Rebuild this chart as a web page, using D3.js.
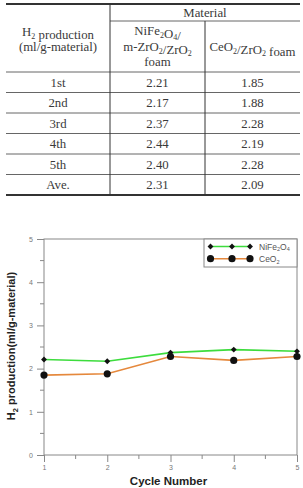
<!DOCTYPE html>
<html><head><meta charset="utf-8">
<script src="https://cdn.jsdelivr.net/npm/d3@7"></script>
<style>body{margin:0;background:#fff}svg{display:block}</style>
</head><body>
<script>
// ---- data ----
const rowLabels = ["1st","2nd","3rd","4th","5th","Ave."];
const nifeTable = ["2.21","2.17","2.37","2.44","2.40","2.31"];
const ceoTable  = ["1.85","1.88","2.28","2.19","2.28","2.09"];
const cycles = [1,2,3,4,5];
const nifeValues = [2.21,2.17,2.37,2.44,2.40];
const ceoValues  = [1.85,1.88,2.28,2.19,2.28];
const yTicks = [0,1,2,3,4,5];
const xTicks = [1,2,3,4,5];

const W=303,H=488;
const svg=d3.select("body").append("svg").attr("width",W).attr("height",H);

// ---- table ----
const serif="'Liberation Serif','DejaVu Serif',serif";
const tc="#3a3a3a";
const tL=6,tR=300,c1=110,c2=205,tTop=4,hMid=21,hBot=72,rowH=20.5;
const T=svg.append("g").attr("font-family",serif).attr("font-size",12.8).attr("fill",tc).attr("text-anchor","middle");
function rich(g,x,y,parts){
  const t=g.append("text").attr("x",x).attr("y",y);
  parts.forEach(p=>{
    if(typeof p==="string") t.append("tspan").text(p);
    else { t.append("tspan").attr("font-size",8).attr("dy",2.5).text(p.sub);
           t.append("tspan").attr("dy",-2.5).text(""); }
  });
  return t;
}
T.append("line").attr("x1",tL).attr("x2",tR).attr("y1",tTop).attr("y2",tTop).attr("stroke","#333").attr("stroke-width",2);
T.append("line").attr("x1",c1).attr("x2",tR).attr("y1",hMid).attr("y2",hMid).attr("stroke","#666").attr("stroke-width",1);
T.append("line").attr("x1",tL).attr("x2",tR).attr("y1",hBot).attr("y2",hBot).attr("stroke","#666").attr("stroke-width",1);
rowLabels.forEach((r,i)=>{
  const yy=hBot+rowH*(i+1);
  const last=i===rowLabels.length-1;
  T.append("line").attr("x1",tL).attr("x2",tR).attr("y1",yy).attr("y2",yy)
    .attr("stroke",last?"#333":"#666").attr("stroke-width",last?2:1);
  const cy=hBot+rowH*i+rowH/2+4.3;
  T.append("text").attr("x",(tL+c1)/2).attr("y",cy).text(r);
  T.append("text").attr("x",(c1+c2)/2).attr("y",cy).text(nifeTable[i]);
  T.append("text").attr("x",(c2+tR)/2).attr("y",cy).text(ceoTable[i]);
});
const tBot=hBot+rowH*rowLabels.length;
T.append("line").attr("x1",c1).attr("x2",c1).attr("y1",tTop).attr("y2",tBot).attr("stroke","#333");
T.append("line").attr("x1",c2).attr("x2",c2).attr("y1",hMid).attr("y2",tBot).attr("stroke","#333");
T.append("text").attr("x",(c1+tR)/2).attr("y",17).text("Material");
rich(T,(tL+c1)/2,36,["H",{sub:"2"}," production"]);
T.append("text").attr("x",(tL+c1)/2).attr("y",51).text("(ml/g-material)");
rich(T,(c1+c2)/2,35,["NiFe",{sub:"2"},"O",{sub:"4"},"/"]);
rich(T,(c1+c2)/2,51,["m-ZrO",{sub:"2"},"/ZrO",{sub:"2"}]);
T.append("text").attr("x",(c1+c2)/2).attr("y",66).text("foam");
rich(T,(c2+tR)/2,51,["CeO",{sub:"2"},"/ZrO",{sub:"2"}," foam"]);

// ---- chart ----
const sans="Arial,'Liberation Sans',sans-serif";
const pL=44,pR=297,pT=239,pB=455;
const x=d3.scaleLinear().domain([1,5]).range([pL,pR]);
const y=d3.scaleLinear().domain([0,5]).range([pB,pT]);
const C=svg.append("g").attr("font-family",sans);
const ax="#888";
const yMinor=d3.range(0.5,5,1);
const xMinor=d3.range(1.5,5,1);
C.append("g").selectAll("line").data(yMinor).join("line")
  .attr("x1",pL-4).attr("x2",pL).attr("y1",d=>y(d)).attr("y2",d=>y(d)).attr("stroke",ax);
C.append("g").selectAll("line").data(xMinor).join("line")
  .attr("y1",pB).attr("y2",pB+4).attr("x1",d=>x(d)).attr("x2",d=>x(d)).attr("stroke",ax);
const yAxis=C.append("g").attr("transform",`translate(${pL},0)`)
  .call(d3.axisLeft(y).tickValues(yTicks).tickSize(7).tickPadding(4).tickFormat(d3.format("d")));
const xAxis=C.append("g").attr("transform",`translate(0,${pB})`)
  .call(d3.axisBottom(x).tickValues(xTicks).tickSize(7).tickPadding(3).tickFormat(d3.format("d")));
[yAxis,xAxis].forEach(a=>{
  a.select(".domain").remove();
  a.selectAll("line").attr("stroke",ax);
  a.selectAll("text").attr("fill","#777").attr("font-size",7).attr("font-family",sans);
});
C.append("rect").attr("x",pL).attr("y",pT).attr("width",pR-pL).attr("height",pB-pT)
  .attr("fill","none").attr("stroke",ax).attr("stroke-width",1);

const green="#3ddc3d", orange="#e5883c";
const line=d3.line().x((d,i)=>x(cycles[i])).y(d=>y(d));
C.append("path").datum(nifeValues).attr("d",line).attr("fill","none").attr("stroke",green).attr("stroke-width",1.6);
C.append("path").datum(ceoValues).attr("d",line).attr("fill","none").attr("stroke",orange).attr("stroke-width",1.6);
const diamond=d3.symbol().type(d3.symbolDiamond2).size(22);
C.append("g").selectAll("path").data(nifeValues).join("path")
  .attr("d",diamond).attr("transform",(d,i)=>`translate(${x(cycles[i])},${y(d)})`).attr("fill","#111");
C.append("g").selectAll("circle").data(ceoValues).join("circle")
  .attr("cx",(d,i)=>x(cycles[i])).attr("cy",d=>y(d)).attr("r",3.6).attr("fill","#111");

const lg=C.append("g");
lg.append("rect").attr("x",204).attr("y",pT).attr("width",pR-204).attr("height",28)
  .attr("fill","#fff").attr("stroke",ax);
const legendItems=[{name:["NiFe","2","O","4"],color:green,sym:"d",yy:246.5},{name:["CeO","2"],color:orange,sym:"c",yy:258.7}];
legendItems.forEach(it=>{
  lg.append("line").attr("x1",210).attr("x2",250).attr("y1",it.yy).attr("y2",it.yy).attr("stroke",it.color).attr("stroke-width",1.6);
  [210.5,232,250].forEach(px=>{
    if(it.sym==="d") lg.append("path").attr("d",diamond).attr("transform",`translate(${px},${it.yy})`).attr("fill","#111");
    else lg.append("circle").attr("cx",px).attr("cy",it.yy).attr("r",3.6).attr("fill","#111");
  });
  const t=lg.append("text").attr("x",259).attr("y",it.yy+3).attr("font-size",8.5).attr("fill","#555");
  it.name.forEach((s,k)=>{
    if(k%2===0) t.append("tspan").attr("dy",k===0?0:-1.8).text(s);
    else t.append("tspan").attr("font-size",5.5).attr("dy",1.8).text(s);
  });
});

C.append("text").attr("x",(pL+pR)/2-2).attr("y",485).attr("text-anchor","middle")
  .attr("font-weight","bold").attr("font-size",11.5).attr("fill","#222").text("Cycle Number");
const yl=C.append("text").attr("transform",`translate(15,${(pT+pB)/2-1}) rotate(-90)`)
  .attr("text-anchor","middle").attr("font-weight","bold").attr("font-size",11).attr("fill","#222");
yl.append("tspan").text("H");
yl.append("tspan").attr("font-size",7.5).attr("dy",2.5).text("2");
yl.append("tspan").attr("dy",-2.5).text(" production(ml/g-material)");
</script>
</body></html>
